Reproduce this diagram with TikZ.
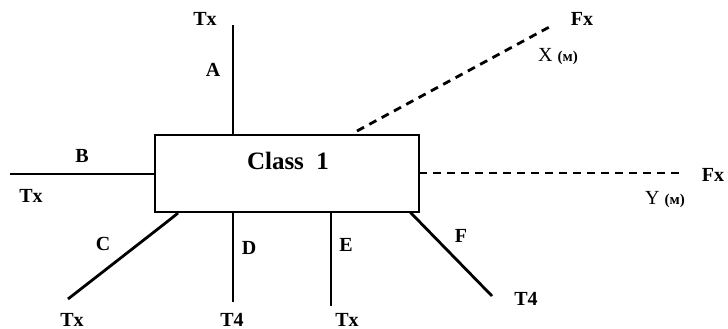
\documentclass[tikz,border=0pt]{standalone}
\usepackage{fontspec}
\setmainfont{Liberation Serif}
\begin{document}
\begin{tikzpicture}[x=1pt,y=-1pt,
  wire/.style={line width=2.8pt},
  dwire/.style={line width=2.8pt, dash pattern=on 8pt off 6pt},
  lbl/.style={inner sep=0pt, font=\fontsize{20}{22}\selectfont\bfseries},
  sml/.style={inner sep=0pt, font=\fontsize{20}{22}\selectfont}]
\useasboundingbox (0,0) rectangle (728,329);
% box
\node[draw, line width=2.8pt, minimum width=264pt, minimum height=77pt, inner sep=0pt] (cls) at (287,173.5) {};
\node[inner sep=0pt, font=\fontsize{25}{27}\selectfont\bfseries] (clstext) at (288,161) {Class\ \ 1};
% endpoints
\coordinate (a0) at (233,135); \coordinate (a1) at (233,25);
\coordinate (b0) at (155,174); \coordinate (b1) at (10,174);
\coordinate (c0) at (178,213); \coordinate (c1) at (68,299);
\coordinate (d0) at (233,212); \coordinate (d1) at (233,302);
\coordinate (e0) at (331,212); \coordinate (e1) at (331,306);
\coordinate (f0) at (410,212); \coordinate (f1) at (492,296);
\coordinate (x0) at (357,131); \coordinate (x1) at (553,25);
\coordinate (y0) at (419,173); \coordinate (y1) at (683,173);
% wires
\draw[wire] (a0) -- (a1);
\draw[wire] (b0) -- (b1);
\draw[wire] (c0) .. controls (172,218) .. (c1);
\draw[wire] (d0) -- (d1);
\draw[wire] (e0) -- (e1);
\draw[wire] (f0) -- (f1);
\draw[dwire] (x0) -- (x1);
\draw[dwire] (y0) -- (y1);
% labels
\node[lbl] (la) at (213,70) {A};
\node[lbl] (ta) at (205,19) {Tx};
\node[lbl] (lb) at (82,156) {B};
\node[lbl] (tb) at (31,196) {Tx};
\node[lbl] (lc) at (103,244) {C};
\node[lbl, anchor=base] (tc) at (72,326) {Tx};
\node[lbl] (ld) at (249,248) {D};
\node[lbl, anchor=base] (td) at (232,326) {T4};
\node[lbl] (le) at (346,245) {E};
\node[lbl, anchor=base] (te) at (347,326) {Tx};
\node[lbl] (lf) at (461,236) {F};
\node[lbl] (tf) at (526,299) {T4};
\node[lbl] (fx1) at (582,19) {Fx};
\node[lbl] (fx2) at (713,175) {Fx};
\node[sml] (xm) at (558,57) {X {\fontsize{15}{17}\selectfont\bfseries(м)}};
\node[sml] (ym) at (665,200) {Y {\fontsize{15}{17}\selectfont\bfseries(м)}};
\end{tikzpicture}
\end{document}
